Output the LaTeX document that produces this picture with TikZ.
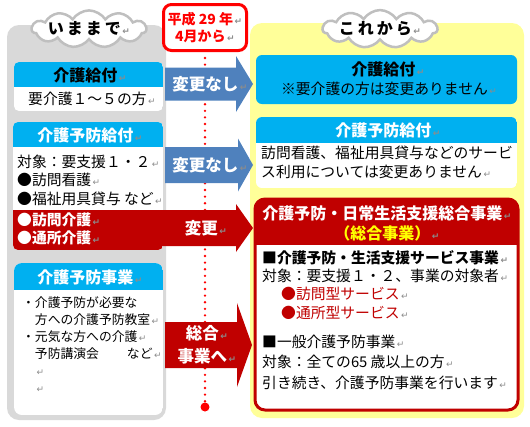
\documentclass[tikz,border=0pt]{standalone}
\usepackage{fontspec}
\setmainfont{Noto Sans CJK JP}
\newfontfamily\symfont{DejaVu Sans}
\usepackage{xcolor}
\usetikzlibrary{shapes.symbols, positioning, calc}

\definecolor{hdrcyan}{HTML}{00B0F0}
\definecolor{darkred}{HTML}{C00000}
\definecolor{arrowblue}{HTML}{4F81BD}
\definecolor{panelgray}{HTML}{D9D9D9}
\definecolor{panelyellow}{HTML}{FFFF99}
\definecolor{markgray}{HTML}{8C8C8C}
\definecolor{cloudgray}{HTML}{BFBFBF}
\definecolor{titleyellow}{HTML}{FFFF00}

% paragraph mark
\newcommand{\retmark}{{\symfont\color{markgray}\fontsize{9}{9}\selectfont\,↵}}
% block arrow: colour, x start, head start, tip, y centre, half body, half head
\newcommand{\blockarrow}[7]{%
  \fill[#1] (#2,#5-#6) -- (#3,#5-#6) -- (#3,#5-#7) -- (#4,#5)
    -- (#3,#5+#7) -- (#3,#5+#6) -- (#2,#5+#6) -- cycle;}

\begin{document}
\begin{tikzpicture}[
    x=1pt, y=-1pt,
    every node/.style={inner sep=0pt},
    hdr/.style={font=\fontsize{16}{20}\selectfont\bfseries},
    body/.style={font=\fontsize{14.8}{19}\selectfont, align=left, anchor=west},
    small/.style={font=\fontsize{12.8}{17}\selectfont, align=left, anchor=west},
    arrowtext/.style={font=\fontsize{16.5}{23}\selectfont\bfseries, text=white, align=center},
    bubble/.style={cloud, cloud puffs=11, cloud puff arc=115, cloud ignores aspect, draw=cloudgray, line width=2.5pt, fill=white, minimum width=112pt, minimum height=34pt, font=\fontsize{16}{16}\selectfont\bfseries}
]
\useasboundingbox (0,0) rectangle (530,426);

% Panels
\fill[panelgray, rounded corners=12] (7,25) rectangle (166,420);
\fill[panelyellow, rounded corners=12] (250,23) rectangle (524,418);

% Dotted time line
\coordinate (linetop) at (205,58);
\node[circle, fill=red, minimum size=9pt] (enddot) at (205,407) {};
\draw[red, line width=2.6pt, line cap=round, dash pattern=on 0pt off 6.6pt] (linetop) -- (enddot);

% Left boxes
\begin{scope}
  \clip[rounded corners=5] (14,62) rectangle (163,111);
  \fill[white] (14,62) rectangle (163,111);
  \fill[hdrcyan] (14,62) rectangle (163,87);
\end{scope}
\node[hdr] (kyufu) at (90,75) {介護給付\retmark};
\node[body] (kyufutext) at (28,99) {要介護１～５の方\retmark};

\begin{scope}
  \clip[rounded corners=5] (13,122) rectangle (163,250);
  \fill[white] (13,122) rectangle (163,250);
  \fill[hdrcyan] (13,122) rectangle (163,147);
  \fill[darkred] (13,210) rectangle (163,250);
\end{scope}
\node[hdr, text=white] (yobo) at (90,135) {介護予防給付\retmark};
\node[body, font=\fontsize{14.8}{18.5}\selectfont] (yobotext) at (17,180) {対象：要支援１・２\retmark\\●訪問看護\retmark\\●福祉用具貸与 など\retmark};
\node[body, text=white, font=\fontsize{14.8}{18.5}\selectfont\bfseries] (yobochange) at (17,229) {●訪問介護\retmark\\●通所介護\retmark};

\begin{scope}
  \clip[rounded corners=8] (14,263) rectangle (163,415);
  \fill[white] (14,263) rectangle (163,415);
  \fill[hdrcyan] (14,263) rectangle (163,290);
\end{scope}
\node[hdr, text=white] (jigyo) at (90,277) {介護予防事業\retmark};
\node[small] (jigyotext) at (22,344.5) {・介護予防が必要な\\　方への介護予防教室\retmark\\・元気な方への介護\retmark\\　予防講演会\hspace{28pt}など\retmark\\　\retmark\\　\retmark};

% Right boxes
\fill[hdrcyan, rounded corners=6] (256,55) rectangle (517,104);
\node[hdr] (newkyufu) at (388,69) {介護給付\retmark};
\node[font=\fontsize{14.8}{19}\selectfont] (newkyufutext) at (389,89) {※要介護の方は変更ありません\retmark};

\begin{scope}
  \clip[rounded corners=6] (256,117) rectangle (517,188);
  \fill[white] (256,117) rectangle (517,188);
  \fill[hdrcyan] (256,117) rectangle (517,143);
\end{scope}
\node[hdr, text=white] (newyobo) at (388,130) {介護予防給付\retmark};
\node[body] (newyobotext) at (261,162.5) {訪問看護、福祉用具貸与などのサービ\\ス利用については変更ありません\retmark};

\begin{scope}
  \clip[rounded corners=10] (255,199) rectangle (518,410);
  \fill[white] (255,199) rectangle (518,410);
  \fill[darkred] (255,199) rectangle (518,245);
\end{scope}
\draw[darkred, line width=3pt, rounded corners=10] (255,199) rectangle (518,410);
\node[hdr, text=white, align=center] (sogo) at (387,223) {介護予防・日常生活支援総合事業\retmark\\{\color{titleyellow}（総合事業）}\retmark};
\node[body, font=\fontsize{14.8}{19}\selectfont\bfseries] (service) at (262,258) {■介護予防・生活支援サービス事業\retmark};
\node[body] (servicetarget) at (262,276) {対象：要支援１・２、事業の対象者\retmark};
\node[body, text=darkred] (servicetypes) at (281,303.5) {●訪問型サービス\retmark\\●通所型サービス\retmark};
\node[body, font=\fontsize{14.8}{20.5}\selectfont] (general) at (262,362) {■一般介護予防事業\retmark\\対象：全ての65 歳以上の方\retmark\\引き続き、介護予防事業を行います\retmark};

% Arrows
\blockarrow{arrowblue}{165}{236}{253}{84}{16.5}{28}
\node[arrowtext] (same1) at (210,84) {変更なし\retmark};
\blockarrow{arrowblue}{165}{238}{253}{165}{18}{26.5}
\node[arrowtext] (same2) at (210,165) {変更なし\retmark};
\blockarrow{darkred}{160}{236}{253}{228}{18}{24}
\node[arrowtext] (changed) at (206,228) {変更\retmark};
\blockarrow{darkred}{165}{237}{252}{345}{23}{42}
\node[arrowtext] (tosogo) at (207,345) {総合\retmark\\事業へ\retmark};

% Clouds and date
\node[bubble] (now) at (89,29) {い\hspace{3pt}ま\hspace{3pt}ま\hspace{3pt}で\retmark};
\node[bubble] (future) at (380,29) {こ\hspace{3pt}れ\hspace{3pt}か\hspace{3pt}ら\retmark};
\node[draw=red, line width=3pt, rounded corners=8, fill=white, minimum width=83pt, minimum height=46pt, text=red, align=center, font=\fontsize{14}{16.5}\selectfont\bfseries] (start) at (205,27.5) {平成 29 年\retmark\\4月から\retmark};

\end{tikzpicture}
\end{document}
